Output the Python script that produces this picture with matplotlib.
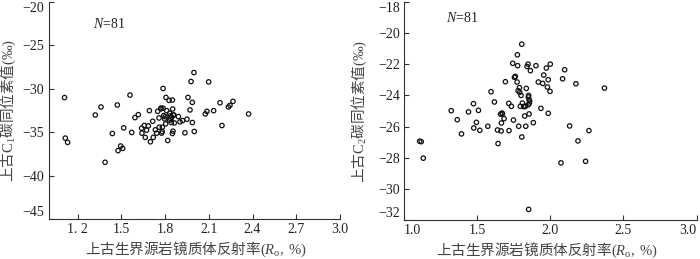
import matplotlib
matplotlib.use("Agg")
import matplotlib.pyplot as plt

plt.rcParams['font.family'] = ['Liberation Serif', 'Noto Sans CJK SC', 'DejaVu Sans']
plt.rcParams['mathtext.fontset'] = 'custom'
plt.rcParams['mathtext.rm'] = 'Liberation Serif'
plt.rcParams['mathtext.it'] = 'Liberation Serif:italic'

# left panel: Ro vs C1 carbon isotope
ro_c1 = [1.11, 1.115, 1.131, 1.321, 1.36, 1.388, 1.438, 1.472, 1.477, 1.495,
         1.509, 1.516, 1.559, 1.571, 1.593, 1.616, 1.639, 1.641, 1.657, 1.664,
         1.673, 1.685, 1.692, 1.699, 1.715, 1.719, 1.733, 1.742, 1.749, 1.758,
         1.76, 1.772, 1.776, 1.781, 1.786, 1.786, 1.79, 1.797, 1.804, 1.806,
         1.811, 1.818, 1.827, 1.831, 1.836, 1.84, 1.843, 1.845, 1.85, 1.852,
         1.854, 1.85, 1.856, 1.863, 1.891, 1.902, 1.92, 1.936, 1.95, 1.957,
         1.971, 1.978, 1.987, 1.987, 1.998, 2.0, 2.076, 2.087, 2.099, 2.133,
         2.177, 2.19, 2.234, 2.245, 2.266, 2.373, 1.77, 1.83, 1.80, 1.86, 1.78]
c1 = [-31.0, -35.66, -36.15, -33.0, -32.08, -38.44, -35.13, -31.85, -37.1, -36.57,
      -36.84, -34.48, -30.71, -35.01, -33.3, -32.96, -34.52, -35.09, -34.21, -35.58,
      -34.75, -34.25, -32.5, -36.08, -33.72, -35.58, -34.71, -35.09, -32.58, -33.34,
      -34.4, -32.2, -35.09, -34.4, -29.95, -32.23, -33.07, -33.45, -34.02, -30.98,
      -32.5, -35.93, -31.32, -32.8, -33.1, -33.49, -33.87, -33.26, -31.28, -32.31,
      -34.86, -35.13, -33.0, -33.91, -33.18, -33.79, -33.64, -35.05, -33.49, -30.98,
      -32.42, -29.15, -31.55, -33.87, -28.12, -34.9, -32.88, -32.58, -29.19, -32.5,
      -31.59, -34.21, -32.08, -31.89, -31.43, -32.88, -32.3, -33.6, -33.2, -33.0, -34.9]

# right panel: Ro vs C2 carbon isotope
ro_c2 = [1.107, 1.118, 1.132, 1.323, 1.364, 1.393, 1.441, 1.475, 1.477, 1.495,
         1.509, 1.518, 1.573, 1.595, 1.618, 1.639, 1.643, 1.664, 1.666, 1.67,
         1.673, 1.684, 1.693, 1.716, 1.718, 1.734, 1.743, 1.748, 1.755, 1.761,
         1.775, 1.773, 1.777, 1.784, 1.789, 1.791, 1.795, 1.8, 1.805, 1.805,
         1.809, 1.818, 1.825, 1.827, 1.832, 1.836, 1.841, 1.848, 1.852, 1.852,
         1.855, 1.855, 1.857, 1.859, 1.864, 1.884, 1.902, 1.918, 1.936, 1.948,
         1.955, 1.973, 1.98, 1.986, 1.986, 1.998, 2.0, 2.073, 2.084, 2.098,
         2.132, 2.175, 2.189, 2.241, 2.264, 2.37, 1.85, 1.83, 1.78, 1.66, 1.85]
c2 = [-26.94, -26.97, -28.03, -24.98, -25.56, -26.47, -25.06, -24.53, -26.09, -25.73,
      -24.96, -26.24, -25.98, -23.76, -24.42, -26.22, -27.09, -26.28, -25.77, -25.13,
      -25.19, -25.49, -23.12, -24.51, -26.26, -24.7, -21.94, -25.58, -22.84, -22.78,
      -21.39, -23.14, -22.09, -25.98, -23.5, -23.8, -24.7, -24.0, -20.71, -26.67,
      -24.49, -24.72, -25.32, -24.7, -25.98, -23.55, -22.14, -21.99, -31.32, -24.0,
      -25.19, -24.27, -24.49, -24.36, -22.41, -25.75, -22.09, -23.14, -24.83, -23.23,
      -22.69, -22.24, -23.46, -22.99, -25.15, -23.74, -21.99, -28.33, -22.93, -22.35,
      -25.96, -23.25, -26.92, -28.23, -26.26, -23.53, -24.6, -24.7, -23.7, -25.2, -24.1]

xticks_left = [1.2, 1.5, 1.8, 2.1, 2.4, 2.7, 3.0]
xticklabels_left = ['1. 2', '1.5', '1.8', '2.1', '2.4', '2.7', '3.0']
yticks_left = [-45, -40, -35, -30, -25, -20]
xticks_right = [1.0, 1.5, 2.0, 2.5, 3.0]
xticklabels_right = ['1.0', '1.5', '2.0', '2.5', '3.0']
yticks_right = [-32, -30, -28, -26, -24, -22, -20, -18]

xlabel = r'上古生界源岩镜质体反射率$\mathrm{(}\mathit{R}_\mathrm{o}\mathrm{,\ \%)}$'
ylabel_left = r'上古$\mathrm{C}_\mathrm{1}$碳同位素值$\mathrm{(‰)}$'
ylabel_right = r'上古$\mathrm{C}_\mathrm{2}$碳同位素值$\mathrm{(‰)}$'

fig = plt.figure(figsize=(7, 2.59), dpi=100)
ax1 = fig.add_axes([0.0693, 0.1533, 0.4164, 0.839])
ax2 = fig.add_axes([0.5771, 0.1506, 0.4181, 0.8417])


def style(ax, x, y, xticks, xlabels, yticks, ylim, ylabel, label_x, xlabel_x, ntext_xy):
    ax.scatter(x, y, s=10, facecolors='none', edgecolors='#111111', linewidths=0.9)
    ax.set_xlim(1.0, 3.0)
    ax.set_ylim(*ylim)
    ax.set_xticks(xticks)
    ax.set_xticklabels(xlabels)
    ax.set_yticks(yticks)
    for s in ['top', 'right']:
        ax.spines[s].set_visible(False)
    for s in ['left', 'bottom']:
        ax.spines[s].set_linewidth(0.8)
        ax.spines[s].set_color('#333333')
    ax.tick_params(direction='in', length=3.5, width=0.8, color='#333333',
                   labelsize=10, labelcolor='#222222', pad=3)
    ylabs = ax.get_yticklabels()
    ylabs[0].set_va('bottom')
    ylabs[-1].set_va('top')
    ax.set_ylabel(ylabel, family='Noto Sans CJK SC', fontsize=10.5, color='#444444')
    ax.yaxis.set_label_coords(label_x, 0.5)
    ax.set_xlabel(xlabel, family='Noto Sans CJK SC', fontsize=10.5, color='#444444')
    ax.xaxis.set_label_coords(xlabel_x, -0.095)
    ax.text(ntext_xy[0], ntext_xy[1], r'$\mathit{N}$=81', transform=ax.transAxes,
            fontsize=10, color='#222222', va='center', ha='left')


style(ax1, ro_c1, c1, xticks_left, xticklabels_left, yticks_left, (-45, -20),
      ylabel_left, -0.103, 0.506, (0.153, 0.90))
style(ax2, ro_c2, c2, xticks_right, xticklabels_right, yticks_right,
      (-32, -18), ylabel_right, -0.12, 0.49, (0.142, 0.925))
ax2.get_xticklabels()[0].set_ha('left')
ax2.get_xticklabels()[-1].set_ha('right')

plt.savefig('out.png', dpi=100)
